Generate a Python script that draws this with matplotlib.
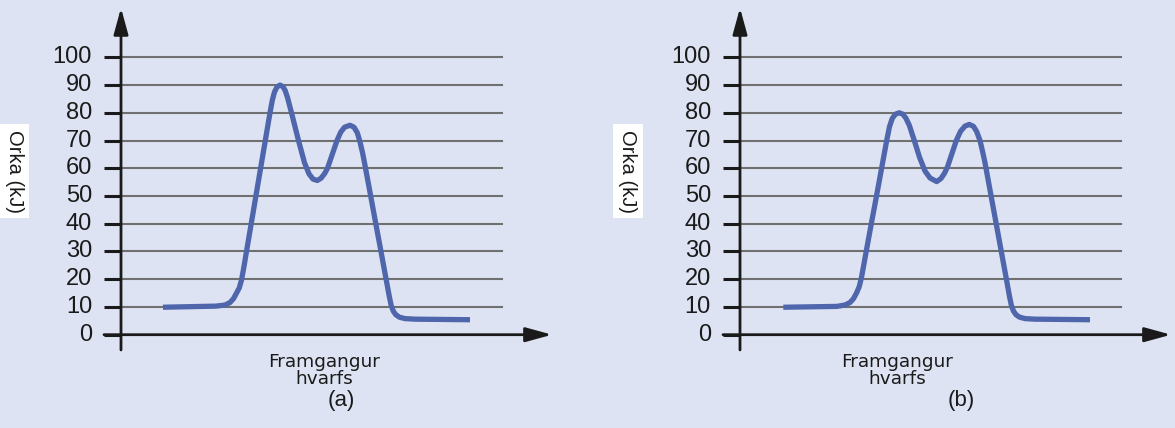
import matplotlib
matplotlib.use("Agg")
import matplotlib.pyplot as plt

# ---- data (reaction progress in arbitrary units, energy in kJ) ----
yticks = [0, 10, 20, 30, 40, 50, 60, 70, 80, 90, 100]

progress_a = [42, 95, 104, 109, 112.5, 115.5, 118.3, 120.5, 122.6, 125.5, 130.2, 134.9,
              139.6, 144.3, 149, 151.3, 153.5, 156, 159, 162, 164.2, 166.5, 170.5, 177.5,
              183.5, 188, 192, 196.3, 200, 203.5, 206.5, 216, 219.7, 223.5, 229, 233,
              236.3, 239, 241.6, 243.5, 249.7, 254.8, 260, 265.1, 268.2, 270.2, 272.3,
              274.8, 278.5, 284, 294, 349]
energy_a = [9.9, 10.3, 10.7, 11.6, 13.0, 15.0, 16.9, 19.7, 23.8, 30, 40, 50,
            60, 70, 80, 84.5, 87.5, 89.3, 90.0, 89.4, 88.0, 85.5, 80, 70,
            62, 58, 56.1, 55.6, 56.4, 58, 60, 70, 73, 74.8, 75.5, 74.8,
            72.8, 69.5, 65.5, 62, 50, 40, 30, 20, 14, 10.5, 8.5,
            7.2, 6.3, 5.8, 5.6, 5.4]

progress_b = [43.3, 96.7, 105, 110, 113.5, 116.5, 119.2, 121.4, 123.3, 126.2, 131.3, 136.5,
              141.6, 146.7, 149.5, 152.3, 155.5, 159.3, 162.8, 166, 169.3, 174.3, 179.5,
              185, 190, 196.7, 201, 204.5, 207.5, 216.3, 220.5, 225, 229.3, 233.5, 236.7,
              240, 242.6, 245, 251.1, 256.2, 261.3, 266.4, 269.4, 271.4, 273.5, 276,
              279.7, 285.2, 295, 350]
energy_b = [9.9, 10.2, 10.7, 11.6, 13.0, 15.0, 17.3, 20.5, 24.2, 30, 40, 50,
            60, 70, 75, 78, 79.5, 80.0, 79.5, 78, 75.5, 70, 64,
            59, 56.5, 55.2, 56.3, 58.2, 60.5, 70, 73.3, 75.2, 75.8, 75.1, 73.2,
            70, 66, 62, 50, 40, 30, 20, 14, 10.5, 8.5, 7.2,
            6.3, 5.8, 5.6, 5.4]

ylabel = "Orka (kJ)"
xlabel = "Framgangur\nhvarfs"
panel_labels = ["(a)", "(b)"]

BG = "#dde3f2"
CURVE = "#4f66ad"
GRID = "#707070"
INK = "#1a1a1a"

W, H = 1175, 428
fig = plt.figure(figsize=(W / 100, H / 100), dpi=100, facecolor=BG)


def px_axes(left_px, right_px, top_px, bottom_px):
    return fig.add_axes([left_px / W, (H - bottom_px) / H,
                         (right_px - left_px) / W, (bottom_px - top_px) / H])


panels = [
    dict(left=121, x=progress_a, y=energy_a, xlab_x=203, plab_x=220, ylab_px=14),
    dict(left=740, x=progress_b, y=energy_b, xlab_x=157, plab_x=221, ylab_px=628),
]

XMAX = 381
for i, p in enumerate(panels):
    ax = px_axes(p["left"], p["left"] + XMAX, 57.3, 334.7)
    ax.set_facecolor("none")
    ax.set_xlim(0, XMAX)
    ax.set_ylim(0, 100)
    for s in ax.spines.values():
        s.set_visible(False)
    ax.set_xticks([])
    ax.set_yticks([])

    # grid lines
    for v in yticks[1:]:
        ax.plot([0, XMAX], [v, v], color=GRID, lw=1.5, zorder=1, clip_on=False)
    # tick marks and labels
    for v in yticks:
        ax.plot([-17, 0], [v, v], color=INK, lw=2.2, zorder=3, clip_on=False,
                solid_capstyle="butt")
        ax.text(-29, v, str(v), ha="right", va="center", fontsize=17,
                family="Liberation Sans", color=INK)

    # axes with arrows
    ax.annotate("", xy=(0, 117.8), xytext=(0, -5.5), xycoords="data",
                arrowprops=dict(arrowstyle="-|>,head_length=0.8,head_width=0.22",
                                mutation_scale=20, color=INK, lw=2, shrinkA=0, shrinkB=0),
                annotation_clip=False, zorder=4)
    ax.annotate("", xy=(431, 0), xytext=(-17, 0), xycoords="data",
                arrowprops=dict(arrowstyle="-|>,head_length=0.8,head_width=0.22",
                                mutation_scale=20, color=INK, lw=2, shrinkA=0, shrinkB=0),
                annotation_clip=False, zorder=4)

    # curve
    ax.plot(p["x"], p["y"], color=CURVE, lw=3.8, zorder=5, solid_capstyle="butt",
            solid_joinstyle="round", clip_on=False)

    # x label
    ax.text(p["xlab_x"], -12.8, xlabel, ha="center", va="center", fontsize=13.3,
            family="DejaVu Sans", color=INK, linespacing=0.92)
    ax.text(p["plab_x"], -23.8, panel_labels[i], ha="center", va="center", fontsize=16,
            family="Liberation Sans", color=INK)

    # y label with white box
    fig.text(p["ylab_px"] / W, (H - 171) / H, ylabel, rotation=270, ha="center",
             va="center", fontsize=14.5, family="Liberation Sans", color=INK,
             bbox=dict(boxstyle="square,pad=0.25", fc="white", ec="none"))

fig.savefig("out.png", dpi=100, facecolor=BG)
